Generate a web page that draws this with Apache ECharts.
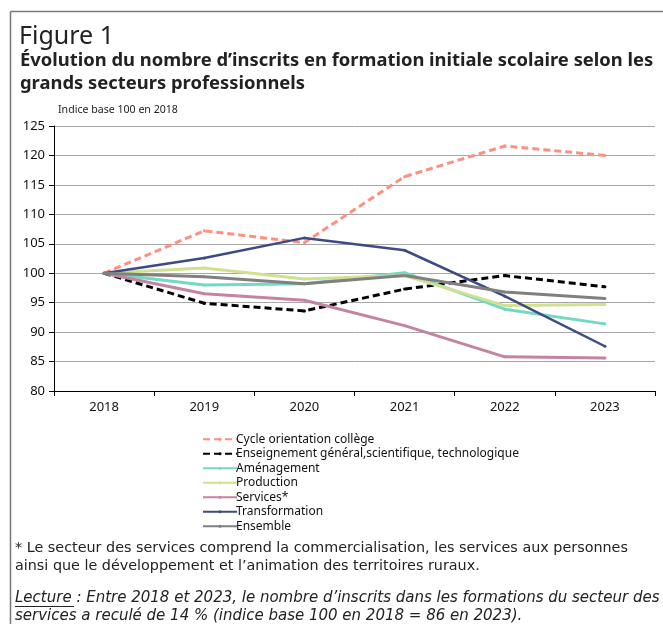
<!DOCTYPE html>
<html><head><meta charset="utf-8">
<script src="https://cdn.jsdelivr.net/npm/echarts@6/dist/echarts.min.js"></script>
<style>html,body{margin:0;padding:0;background:#fff}#c{width:663px;height:624px}</style>
</head><body><div id="c"></div>
<script>
const years = ['2018','2019','2020','2021','2022','2023'];
const cycleOrientation = [100, 107.2, 105.2, 116.4, 121.6, 120.0];
const enseignementGeneral = [100, 94.9, 93.6, 97.3, 99.6, 97.7];
const amenagement = [100, 98.0, 98.2, 100.1, 93.9, 91.4];
const production = [100, 100.9, 99.0, 99.6, 94.5, 94.7];
const services = [100, 96.5, 95.4, 91.1, 85.8, 85.6];
const transformation = [100, 102.6, 106.0, 103.9, 96.1, 87.6];
const ensemble = [100, 99.4, 98.2, 99.6, 96.8, 95.7];
const yTicks = [80, 85, 90, 95, 100, 105, 110, 115, 120, 125];

const F = '"Noto Sans", sans-serif';
const D = '"DejaVu Sans", sans-serif';
function mk(name, data, color, dashed, width) {
  return {
    name, type: 'line', data,
    symbol: 'circle', symbolSize: 3, showSymbol: true,
    itemStyle: { color: color },
    lineStyle: { color, width: width || 3, type: dashed ? [7, 4] : 'solid' },
    emphasis: { disabled: true }, animation: false
  };
}
const chart = echarts.init(document.getElementById('c'));
chart.setOption({
  animation: false,
  grid: { left: 54, right: 8, top: 126, bottom: 233, containLabel: false },
  xAxis: {
    type: 'category', data: years, boundaryGap: true,
    axisLine: { lineStyle: { color: '#000', width: 1 } },
    axisTick: { show: true, length: 5, lineStyle: { color: '#000' } },
    axisLabel: { color: '#111', fontSize: 13, fontFamily: F, margin: 10 },
    splitLine: { show: false }
  },
  yAxis: {
    type: 'value', min: yTicks[0], max: yTicks[yTicks.length - 1], interval: 5,
    axisLine: { show: true, lineStyle: { color: '#000', width: 1 } },
    axisTick: { show: true, length: 5, lineStyle: { color: '#000' } },
    axisLabel: { color: '#111', fontSize: 13, fontFamily: F, margin: 9 },
    splitLine: { show: true, lineStyle: { color: '#a8a8a8', width: 1 } }
  },
  legend: {
    orient: 'vertical', left: 197, top: 427, itemWidth: 34, itemHeight: 4, itemGap: 0,
    textStyle: { fontSize: 12, fontFamily: F, color: '#111', lineHeight: 14.5, height: 14.5, padding: [0, 0, 0, -6] },
    data: ['Cycle orientation collège', 'Enseignement général,scientifique, technologique', 'Aménagement', 'Production', 'Services*', 'Transformation', 'Ensemble']
  },
  series: [
    mk('Cycle orientation collège', cycleOrientation, '#FF8F7E', true),
    mk('Enseignement général,scientifique, technologique', enseignementGeneral, '#000000', true),
    mk('Aménagement', amenagement, '#72D9C5'),
    mk('Production', production, '#D0E190'),
    mk('Services*', services, '#C583A2'),
    mk('Transformation', transformation, '#3D4A84', false, 2.5),
    mk('Ensemble', ensemble, '#808080')
  ],
  graphic: [
    { type: 'line', shape: { x1: 10.5, y1: 11.5, x2: 663, y2: 11.5 }, style: { stroke: '#777', lineWidth: 1.5 } },
    { type: 'line', shape: { x1: 10.5, y1: 11.5, x2: 10.5, y2: 624 }, style: { stroke: '#777', lineWidth: 1.5 } },
    { type: 'text', left: 19, top: 24, style: { text: 'Figure 1', font: '25px ' + F, fill: '#222' } },
    { type: 'text', left: 20, top: 49, style: { text: 'Évolution du nombre d’inscrits en formation initiale scolaire selon les\ngrands secteurs professionnels', font: 'bold 18.4px ' + F, fill: '#222', lineHeight: 23 } },
    { type: 'text', left: 58, top: 104, style: { text: 'Indice base 100 en 2018', font: '10.6px ' + F, fill: '#222' } },
    { type: 'text', left: 15, top: 539, style: { text: '* Le secteur des services comprend la commercialisation, les services aux personnes\nainsi que le développement et l’animation des territoires ruraux.', font: '14.35px ' + D, fill: '#222', lineHeight: 18 } },
    { type: 'text', left: 15, top: 589, style: { text: 'Lecture : Entre 2018 et 2023, le nombre d’inscrits dans les formations du secteur des\nservices a reculé de 14 % (indice base 100 en 2018 = 86 en 2023).', font: 'italic 15px ' + D, fill: '#222', lineHeight: 18 } },
    { type: 'line', shape: { x1: 15, y1: 606.5, x2: 74, y2: 606.5 }, style: { stroke: '#222', lineWidth: 1 } }
  ]
});
</script></body></html>
